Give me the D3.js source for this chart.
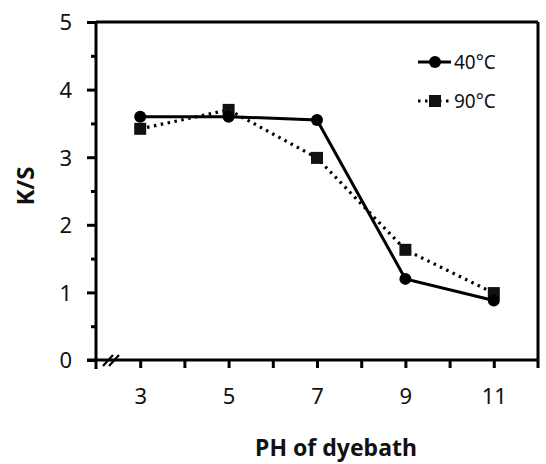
<!DOCTYPE html>
<html><head><meta charset="utf-8">
<script src="https://cdn.jsdelivr.net/npm/d3@7"></script>
<style>body{margin:0;background:#fff}</style>
</head><body><svg id="c" width="546" height="464"></svg>
<script>
const phValues = [3, 5, 7, 9, 11];
const series40 = [3.60, 3.60, 3.55, 1.20, 0.88];
const series90 = [3.42, 3.70, 2.99, 1.63, 0.99];
const seriesNames = ["40°C", "90°C"];
const xTickValues = [3, 5, 7, 9, 11];
const yTickValues = [0, 1, 2, 3, 4, 5];

const svg = d3.select("#c");
const font = "'Noto Sans', sans-serif";
const x = d3.scaleLinear().domain([2, 12]).range([96, 538]);
const y = d3.scaleLinear().domain([0, 5]).range([360, 22]);

// frame
const frame = svg.append("g").attr("stroke", "#000").attr("stroke-width", 3).attr("fill", "none");
frame.append("line").attr("x1", x(2)).attr("x2", x(12)).attr("y1", y(5)).attr("y2", y(5));
frame.append("line").attr("x1", x(12)).attr("x2", x(12)).attr("y1", y(5)).attr("y2", y(0) + 8);

// y axis
const yAxis = svg.append("g").attr("transform", `translate(${x(2)},0)`)
  .call(d3.axisLeft(y).tickValues(yTickValues).tickSize(9).tickFormat(d3.format("d")));
const yMinor = svg.append("g").attr("transform", `translate(${x(2)},0)`)
  .call(d3.axisLeft(y).tickValues(d3.range(0.5, 5, 1)).tickSize(5).tickFormat(""));
// x axis
const xAxis = svg.append("g").attr("transform", `translate(0,${y(0)})`)
  .call(d3.axisBottom(x).tickValues(d3.range(3, 12, 1)).tickSize(8)
    .tickFormat(d => xTickValues.includes(d) ? d : ""));

[yAxis, yMinor, xAxis].forEach(g => {
  g.select(".domain").remove();
  g.selectAll("line").attr("stroke", "#000").attr("stroke-width", 3);
  g.selectAll("text").attr("font-family", font).attr("font-size", 22).attr("fill", "#111");
});
yAxis.selectAll("text").attr("dx", -12).attr("dy", "0.36em");
xAxis.selectAll("text").attr("dy", "1.5em");

// axis lines
svg.append("line").attr("x1", x(2)).attr("x2", x(2)).attr("y1", y(5)).attr("y2", y(0) + 9)
  .attr("stroke", "#000").attr("stroke-width", 3);
svg.append("line").attr("x1", x(2) - 9).attr("x2", x(12)).attr("y1", y(0)).attr("y2", y(0))
  .attr("stroke", "#000").attr("stroke-width", 3);

// break mark
[0, 6].forEach(o => {
  svg.append("line").attr("x1", 103 + o).attr("y1", 366).attr("x2", 113 + o).attr("y2", 355)
    .attr("stroke", "#000").attr("stroke-width", 2.2);
});

// lines
const line = d3.line().x(d => x(d[0])).y(d => y(d[1]));
const d40 = phValues.map((p, i) => [p, series40[i]]);
const d90 = phValues.map((p, i) => [p, series90[i]]);

svg.append("path").attr("d", line(d90)).attr("fill", "none").attr("stroke", "#000")
  .attr("stroke-width", 3.2).attr("stroke-dasharray", "2.5,4.5");
svg.append("path").attr("d", line(d40)).attr("fill", "none").attr("stroke", "#000")
  .attr("stroke-width", 3);

svg.selectAll(".sq").data(d90).enter().append("rect")
  .attr("x", d => x(d[0]) - 6).attr("y", d => y(d[1]) - 6)
  .attr("width", 12).attr("height", 12).attr("fill", "#111");
svg.selectAll(".ci").data(d40).enter().append("circle")
  .attr("cx", d => x(d[0])).attr("cy", d => y(d[1])).attr("r", 6).attr("fill", "#000");

// legend
const lg = svg.append("g");
lg.append("line").attr("x1", 418).attr("x2", 451).attr("y1", 62).attr("y2", 62)
  .attr("stroke", "#000").attr("stroke-width", 3);
lg.append("circle").attr("cx", 435).attr("cy", 62).attr("r", 6).attr("fill", "#000");
lg.append("line").attr("x1", 418).attr("x2", 451).attr("y1", 101).attr("y2", 101)
  .attr("stroke", "#000").attr("stroke-width", 3.2).attr("stroke-dasharray", "2.5,4.5");
lg.append("rect").attr("x", 429).attr("y", 95).attr("width", 12).attr("height", 12).attr("fill", "#111");
lg.selectAll("text").data(seriesNames).enter().append("text")
  .attr("x", 454).attr("y", (d, i) => 69 + i * 39)
  .attr("font-family", font).attr("font-size", 19).attr("fill", "#111").text(d => d);

// axis titles
svg.append("text").attr("transform", "translate(34,186) rotate(-90)")
  .attr("text-anchor", "middle").attr("font-family", font).attr("font-weight", "bold")
  .attr("font-size", 24).attr("fill", "#111").text("K/S");
svg.append("text").attr("x", 336).attr("y", 456)
  .attr("text-anchor", "middle").attr("font-family", font).attr("font-weight", "bold")
  .attr("font-size", 23).attr("fill", "#111").text("PH of dyebath");
</script></body></html>
